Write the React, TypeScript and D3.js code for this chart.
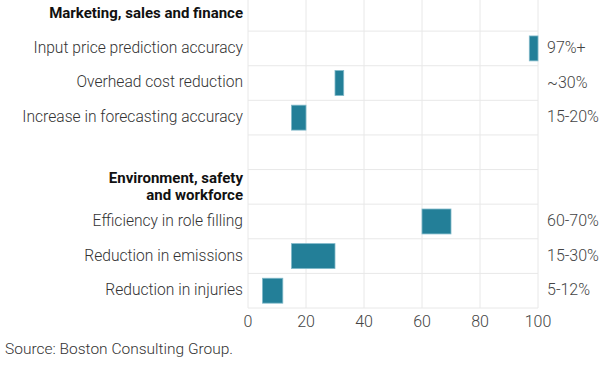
import React from 'react';
import * as d3 from 'd3';

// rows of the chart, top to bottom
const groups = ['Marketing, sales and finance', 'Environment, safety\nand workforce'];
const categories = [
  'Input price prediction accuracy',
  'Overhead cost reduction',
  'Increase in forecasting accuracy',
  'Efficiency in role filling',
  'Reduction in emissions',
  'Reduction in injuries',
];
const categoryGroup = [0, 0, 0, 1, 1, 1];
const lowValues = [97, 30, 15, 60, 15, 5];
const highValues = [100, 33, 20, 70, 30, 12];
const valueLabels = ['97%+', '~30%', '15-20%', '60-70%', '15-30%', '5-12%'];
const xTicks = [0, 20, 40, 60, 80, 100];
const source = 'Source: Boston Consulting Group.';

const W = 600;
const H = 366;
const FONT = 'Roboto, "Open Sans", sans-serif';

const App: React.FC = () => {
  // build row keys: header, items, spacer, header, items
  const rowKeys: string[] = [];
  groups.forEach((g, gi) => {
    if (gi > 0) rowKeys.push('spacer-' + gi);
    rowKeys.push('group-' + gi);
    categories.forEach((c, ci) => {
      if (categoryGroup[ci] === gi) rowKeys.push('cat-' + ci);
    });
  });

  const x = d3.scaleLinear().domain([0, 100]).range([248, 538]);
  const y = d3.scaleBand<string>().domain(rowKeys).range([-3.5, 308]).paddingInner(0);
  const bw = y.bandwidth();

  return (
    <svg width={W} height={H} style={{ position: 'absolute', left: 0, top: 0, background: '#fff' }}>
      {/* vertical grid */}
      {xTicks.map(t => (
        <line key={'v' + t} x1={x(t)} x2={x(t)} y1={0} y2={308} stroke="#e8e8e8" strokeWidth={1} />
      ))}
      {/* row separators */}
      {rowKeys.slice(1).map(k => (
        <line key={'h' + k} x1={x(0)} x2={x(100)} y1={y(k)} y2={y(k)} stroke="#e8e8e8" strokeWidth={1} />
      ))}
      <line x1={x(0)} x2={x(100)} y1={308} y2={308} stroke="#e8e8e8" strokeWidth={1} />

      {/* group headers, one text per line */}
      {groups.map((g, gi) => {
        const lines = g.split('\n');
        const cy = (y('group-' + gi) || 0) + bw / 2;
        const lh = 17;
        const start = cy - ((lines.length - 1) * lh) / 2 - 1;
        return lines.map((ln, li) => (
          <text key={'g' + gi + '-' + li} x={243} y={start + li * lh} dy="0.35em" textAnchor="end"
            fontFamily={FONT} fontSize={15} fontWeight={700} fill="#111">
            {ln}
          </text>
        ));
      })}

      {/* categories, bars, value labels */}
      {categories.map((c, i) => {
        const top = y('cat-' + i) || 0;
        const cy = top + bw / 2;
        return (
          <g key={'c' + i}>
            <text x={243} y={cy - 1} dy="0.35em" textAnchor="end" fontFamily={FONT} fontSize={15.6} fontWeight={300} fill="#333">
              {c}
            </text>
            <rect
              x={x(lowValues[i])}
              y={top + bw * 0.14}
              width={x(highValues[i]) - x(lowValues[i])}
              height={bw * 0.72}
              fill="#237f98"
              stroke="#7fb8c9"
              strokeWidth={0.8}
            />
            <text x={547} y={cy - 1} dy="0.35em" fontFamily={FONT} fontSize={16} fontWeight={300} fill="#444">
              {valueLabels[i]}
            </text>
          </g>
        );
      })}

      {/* x axis labels */}
      {xTicks.map(t => (
        <text key={'t' + t} x={x(t)} y={321} dy="0.35em" textAnchor="middle" fontFamily={FONT} fontSize={16} fontWeight={300} fill="#444">
          {t}
        </text>
      ))}

      <text x={5} y={349} dy="0.35em" fontFamily={FONT} fontSize={15.5} fontWeight={300} fill="#333">
        {source}
      </text>
    </svg>
  );
};

export default App;
